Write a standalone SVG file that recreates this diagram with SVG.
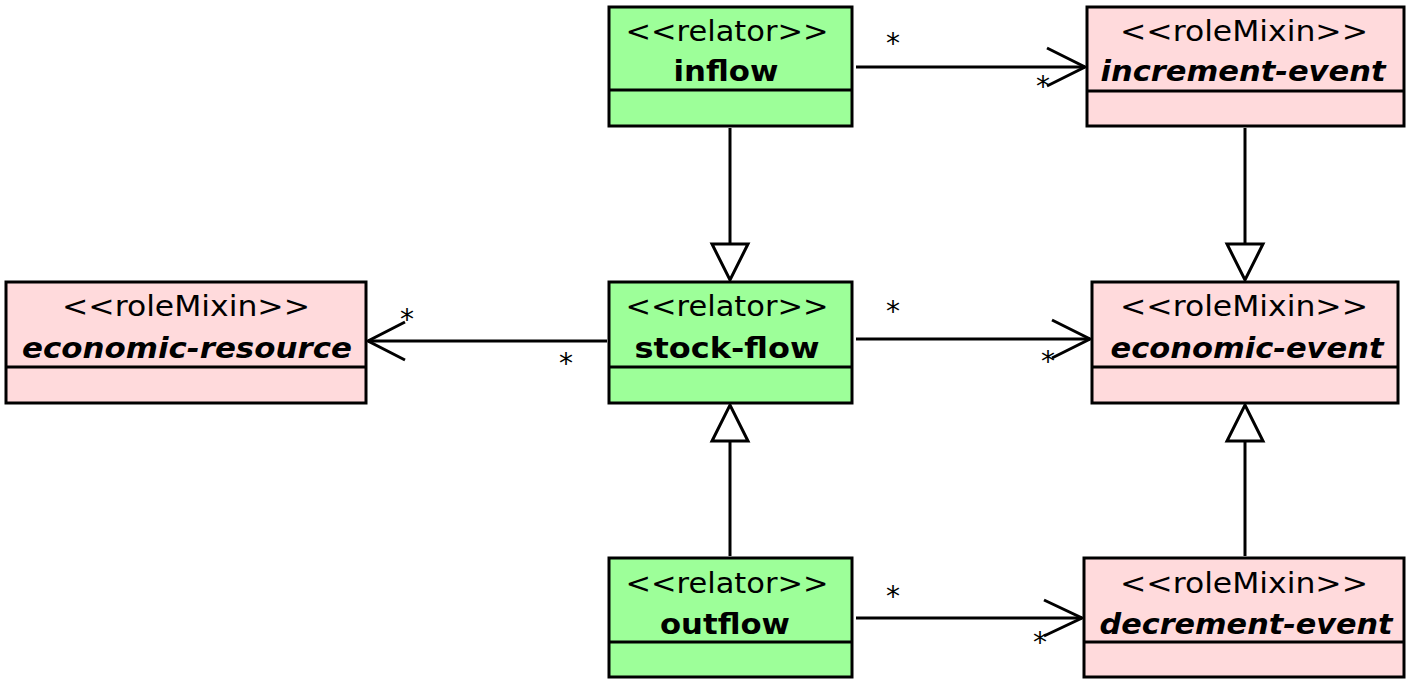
<svg xmlns="http://www.w3.org/2000/svg" width="1419" height="690" viewBox="0 0 1419 690">
<style>
.box{stroke:#000;stroke-width:3}
.rel{fill:#9dff99}
.mix{fill:#ffdadc}
.div{stroke:#000;stroke-width:3}
.t{font-family:"DejaVu Sans",sans-serif;font-size:29px;text-anchor:middle;fill:#000}
.b{font-weight:bold}
.i{font-weight:bold;font-style:italic}
.ln{stroke:#000;stroke-width:3;fill:none}
.tri{stroke:#000;stroke-width:3;fill:#fff}
.st{font-family:"DejaVu Sans",sans-serif;font-size:28px;text-anchor:middle;fill:#000}
</style>
<rect width="1419" height="690" fill="#fff"/>
<g id="connectors">
  <line class="ln" x1="856" y1="67" x2="1085" y2="67"/>
  <polyline class="ln" points="1047,48 1085,67 1047,86"/>
  <text class="st" x="893" y="53">*</text>
  <text class="st" x="1043" y="96">*</text>

  <line class="ln" x1="856" y1="339" x2="1090" y2="339"/>
  <polyline class="ln" points="1052,320 1090,339 1052,358"/>
  <text class="st" x="893" y="321">*</text>
  <text class="st" x="1048" y="371">*</text>

  <line class="ln" x1="607" y1="341" x2="368" y2="341"/>
  <polyline class="ln" points="405,322 368,341 405,360"/>
  <text class="st" x="407" y="329">*</text>
  <text class="st" x="566" y="373">*</text>

  <line class="ln" x1="856" y1="618" x2="1082" y2="618"/>
  <polyline class="ln" points="1044,600 1082,618 1044,636"/>
  <text class="st" x="893" y="606">*</text>
  <text class="st" x="1040" y="652">*</text>

  <line class="ln" x1="730" y1="128" x2="730" y2="244"/>
  <polygon class="tri" points="712,244 748,244 730,280"/>
  <line class="ln" x1="1245" y1="128" x2="1245" y2="244"/>
  <polygon class="tri" points="1227,244 1263,244 1245,280"/>
  <line class="ln" x1="730" y1="556" x2="730" y2="441"/>
  <polygon class="tri" points="712,441 748,441 730,405"/>
  <line class="ln" x1="1245" y1="556" x2="1245" y2="441"/>
  <polygon class="tri" points="1227,441 1263,441 1245,405"/>
</g>
<g id="inflow">
  <rect class="box rel" x="609" y="7" width="243" height="119"/>
  <line class="div" x1="609" y1="90" x2="852" y2="90"/>
  <text class="t" x="727" y="41" textLength="203" lengthAdjust="spacingAndGlyphs">&lt;&lt;relator&gt;&gt;</text>
  <text class="t b" x="726" y="81" textLength="105" lengthAdjust="spacingAndGlyphs">inflow</text>
</g>
<g id="increment-event">
  <rect class="box mix" x="1087" y="7" width="317" height="119"/>
  <line class="div" x1="1087" y1="91" x2="1404" y2="91"/>
  <text class="t" x="1244" y="41" textLength="248" lengthAdjust="spacingAndGlyphs">&lt;&lt;roleMixin&gt;&gt;</text>
  <text class="t i" x="1243" y="81" textLength="285" lengthAdjust="spacingAndGlyphs">increment-event</text>
</g>
<g id="stock-flow">
  <rect class="box rel" x="609" y="282" width="243" height="121"/>
  <line class="div" x1="609" y1="367" x2="852" y2="367"/>
  <text class="t" x="727" y="316" textLength="203" lengthAdjust="spacingAndGlyphs">&lt;&lt;relator&gt;&gt;</text>
  <text class="t b" x="727" y="358" textLength="185" lengthAdjust="spacingAndGlyphs">stock-flow</text>
</g>
<g id="economic-resource">
  <rect class="box mix" x="6" y="282" width="360" height="121"/>
  <line class="div" x1="6" y1="367" x2="366" y2="367"/>
  <text class="t" x="186" y="316" textLength="248" lengthAdjust="spacingAndGlyphs">&lt;&lt;roleMixin&gt;&gt;</text>
  <text class="t i" x="187" y="358" textLength="330" lengthAdjust="spacingAndGlyphs">economic-resource</text>
</g>
<g id="economic-event">
  <rect class="box mix" x="1092" y="282" width="306" height="121"/>
  <line class="div" x1="1092" y1="367" x2="1398" y2="367"/>
  <text class="t" x="1244" y="316" textLength="248" lengthAdjust="spacingAndGlyphs">&lt;&lt;roleMixin&gt;&gt;</text>
  <text class="t i" x="1247" y="358" textLength="273" lengthAdjust="spacingAndGlyphs">economic-event</text>
</g>
<g id="outflow">
  <rect class="box rel" x="609" y="558" width="243" height="119"/>
  <line class="div" x1="609" y1="642" x2="852" y2="642"/>
  <text class="t" x="727" y="593" textLength="203" lengthAdjust="spacingAndGlyphs">&lt;&lt;relator&gt;&gt;</text>
  <text class="t b" x="725" y="634" textLength="130" lengthAdjust="spacingAndGlyphs">outflow</text>
</g>
<g id="decrement-event">
  <rect class="box mix" x="1084" y="558" width="320" height="119"/>
  <line class="div" x1="1084" y1="642" x2="1404" y2="642"/>
  <text class="t" x="1244" y="593" textLength="248" lengthAdjust="spacingAndGlyphs">&lt;&lt;roleMixin&gt;&gt;</text>
  <text class="t i" x="1246" y="634" textLength="293" lengthAdjust="spacingAndGlyphs">decrement-event</text>
</g>
</svg>
